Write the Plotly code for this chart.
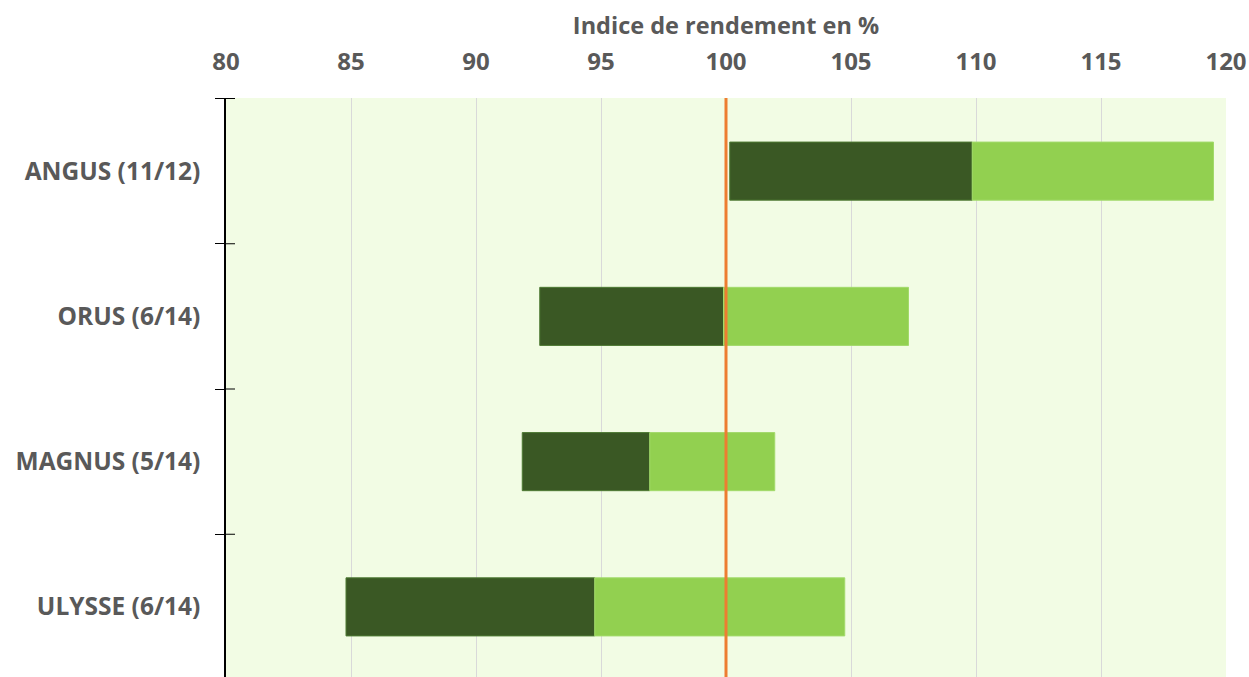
import plotly.graph_objects as go

# ---- data ----
varieties = ["ANGUS (11/12)", "ORUS (6/14)", "MAGNUS (5/14)", "ULYSSE (6/14)"]
low_values = [100.15, 92.55, 91.85, 84.8]     # start of dark segment
mid_values = [109.85, 99.9, 96.95, 94.75]     # dark / light boundary
high_values = [119.5, 107.3, 101.95, 104.75]  # end of light segment
reference_value = 100
x_title = "Indice de rendement en %"
x_ticks = [80, 85, 90, 95, 100, 105, 110, 115, 120]

DARK = "#3A5824"
LIGHT = "#92D050"
ORANGE = "#ED7D31"
TEXT = "#595959"
FONT = "Open Sans"

fig = go.Figure()
fig.add_trace(go.Bar(
    y=varieties,
    base=low_values,
    x=[m - l for l, m in zip(low_values, mid_values)],
    orientation="h",
    marker=dict(color=DARK, line=dict(color="#4E7A33", width=1)),
    showlegend=False,
))
fig.add_trace(go.Bar(
    y=varieties,
    base=mid_values,
    x=[h - m for m, h in zip(mid_values, high_values)],
    orientation="h",
    marker=dict(color=LIGHT, line=dict(color="#A2DA6A", width=1)),
    showlegend=False,
))

fig.add_shape(type="line", xref="x", yref="paper", x0=reference_value, x1=reference_value,
              y0=0, y1=1, line=dict(color=ORANGE, width=3), layer="above")

# inner half of the cross tick marks on the category axis
for i in range(len(varieties) + 1):
    fig.add_shape(type="line", xref="x domain", yref="y", x0=0, x1=0.009,
                  y0=i - 0.5, y1=i - 0.5, line=dict(color="black", width=1), layer="above")

fig.update_layout(
    width=1249, height=680,
    margin=dict(l=226, r=23, t=98, b=0),
    paper_bgcolor="white",
    plot_bgcolor="#F2FCE4",
    barmode="overlay",
    bargap=0.6,
    font=dict(family=FONT, color=TEXT, size=23, weight="bold"),
    xaxis=dict(
        side="top",
        range=[80, 120],
        tickvals=x_ticks,
        automargin=False,
        showgrid=True, gridcolor="#D9D9D9", gridwidth=1,
        zeroline=False, showline=False, ticks="",
        ticklabelstandoff=22,
        tickfont=dict(family=FONT, size=24, color=TEXT, weight="bold"),
        title=dict(text=x_title, standoff=2,
                   font=dict(family=FONT, size=23.5, color=TEXT, weight="bold")),
    ),
    yaxis=dict(
        categoryorder="array", categoryarray=varieties,
        autorange="reversed",
        automargin=False,
        showline=True, linecolor="black", linewidth=1.5,
        ticks="outside", ticklen=9, tickcolor="black", tickwidth=1,
        tickson="boundaries",
        showgrid=False, zeroline=False,
        ticklabelstandoff=19,
        tickfont=dict(family=FONT, size=24.5, color=TEXT, weight="bold"),
    ),
)

fig.write_html(
    "out.html",
    config={"displayModeBar": False},
    post_script="document.body.style.margin='0';document.body.style.overflow='hidden';",
)
